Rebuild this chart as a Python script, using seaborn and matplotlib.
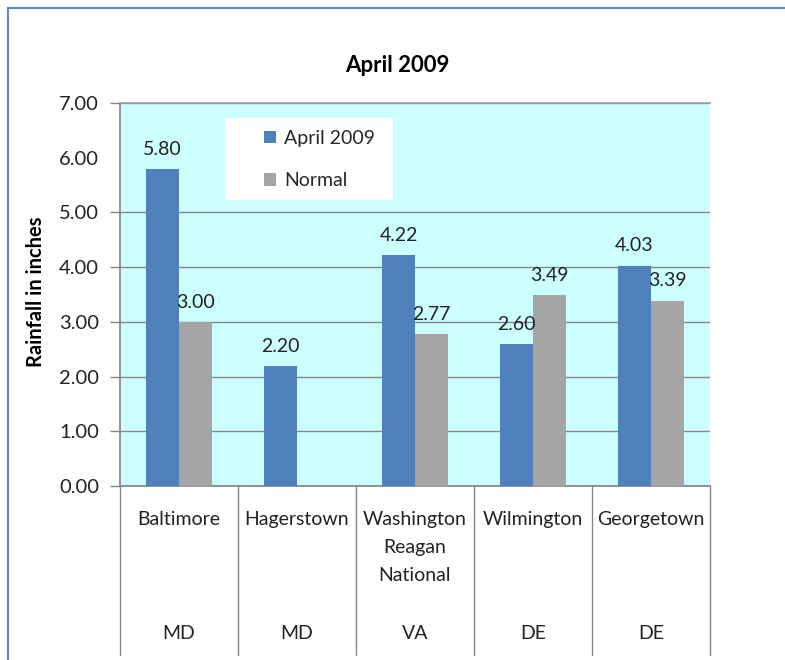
import numpy as np
import pandas as pd
import matplotlib
matplotlib.use("Agg")
import matplotlib.pyplot as plt
import matplotlib.transforms as mtrans
from matplotlib.lines import Line2D
from matplotlib.patches import Rectangle
import seaborn as sns

# data
cities = ["Baltimore", "Hagerstown", "Washington\nReagan\nNational", "Wilmington", "Georgetown"]
states = ["MD", "MD", "VA", "DE", "DE"]
april_2009 = [5.80, 2.20, 4.22, 2.60, 4.03]
normal = [3.00, np.nan, 2.77, 3.49, 3.39]
series = ["April 2009", "Normal"]
colors = ["#4F81BD", "#A5A5A5"]

df = pd.DataFrame({
    "city": cities * 2,
    "series": [series[0]] * len(cities) + [series[1]] * len(cities),
    "rain": april_2009 + normal,
})

sns.set_theme(style="white")
plt.rcParams["font.family"] = ["Lato", "DejaVu Sans"]

fig = plt.figure(figsize=(7.85, 6.6), dpi=100)
ax = fig.add_axes([120 / 785, 1 - 486 / 660, 590 / 785, 383 / 660])
ax.set_facecolor("#CCFFFF")

sns.barplot(data=df, x="city", y="rain", hue="series", hue_order=series,
            order=cities, palette=colors, width=0.56, saturation=1,
            errorbar=None, linewidth=0, ax=ax, zorder=3)

for cont in ax.containers:
    ax.bar_label(cont, fmt="%.2f", padding=8, fontsize=14, color="#222222")

ax.set_ylim(0, 7)
ax.set_xlim(-0.5, len(cities) - 0.5)
ax.set_yticks(np.arange(0, 8, 1))
ax.set_yticklabels([f"{v:.2f}" for v in np.arange(0, 8, 1)], fontsize=14.5,
                   color="#222222")
ax.tick_params(axis="y", length=7, width=1, color="#868686", pad=8, left=True)
ax.set_xticks([])
ax.set_xlabel("")
ax.set_ylabel("")

ax.yaxis.grid(True, color="#868686", linewidth=1)
ax.set_axisbelow(True)
# the 6.00 gridline and tick don't show in the original
ax.yaxis.get_gridlines()[6].set_visible(False)
ax.yaxis.get_major_ticks()[6].tick1line.set_visible(False)

ax.spines["right"].set_visible(False)
ax.spines["top"].set_color("#A0A0A0")
ax.spines["left"].set_color("#868686")
ax.spines["bottom"].set_color("#868686")

# white legend box
ax.add_patch(Rectangle((0.178, 0.747), 0.285, 0.214, transform=ax.transAxes,
                       facecolor="white", edgecolor="none", zorder=2))
ax.legend(loc="upper left", bbox_to_anchor=(0.215, 0.975), frameon=False,
          fontsize=14, handlelength=0.6, handleheight=0.6, handletextpad=0.4,
          labelspacing=1.3)

# two-level category axis
trans = mtrans.blended_transform_factory(ax.transData, ax.transAxes)
for i, (c, s) in enumerate(zip(cities, states)):
    ax.text(i, -0.065, c, transform=trans, ha="center", va="top",
            fontsize=14, linespacing=1.8, color="#222222")
    ax.text(i, -0.384, s, transform=trans, ha="center", va="center",
            fontsize=14, color="#222222")
for b in np.arange(-0.5, len(cities), 1):
    ax.add_line(Line2D([b, b], [0, -0.441], transform=trans, color="#868686",
                       linewidth=1, clip_on=False))

fig.text(397 / 785, 1 - 65 / 660, "April 2009", ha="center", va="center",
         fontsize=16, fontweight="bold", color="black")
fig.text(36 / 785, 1 - 292 / 660, "Rainfall in inches", ha="center", va="center",
         rotation=90, fontsize=14.5, fontweight="bold", color="black")

# outer chart border (left and top edges are visible)
fig.add_artist(Line2D([8 / 785, 8 / 785], [0, 1 - 8 / 660], transform=fig.transFigure,
                      color="#5B87C5", linewidth=1.5))
fig.add_artist(Line2D([8 / 785, 1], [1 - 8 / 660, 1 - 8 / 660], transform=fig.transFigure,
                      color="#5B87C5", linewidth=1.5))

fig.savefig("out.png", dpi=100)
